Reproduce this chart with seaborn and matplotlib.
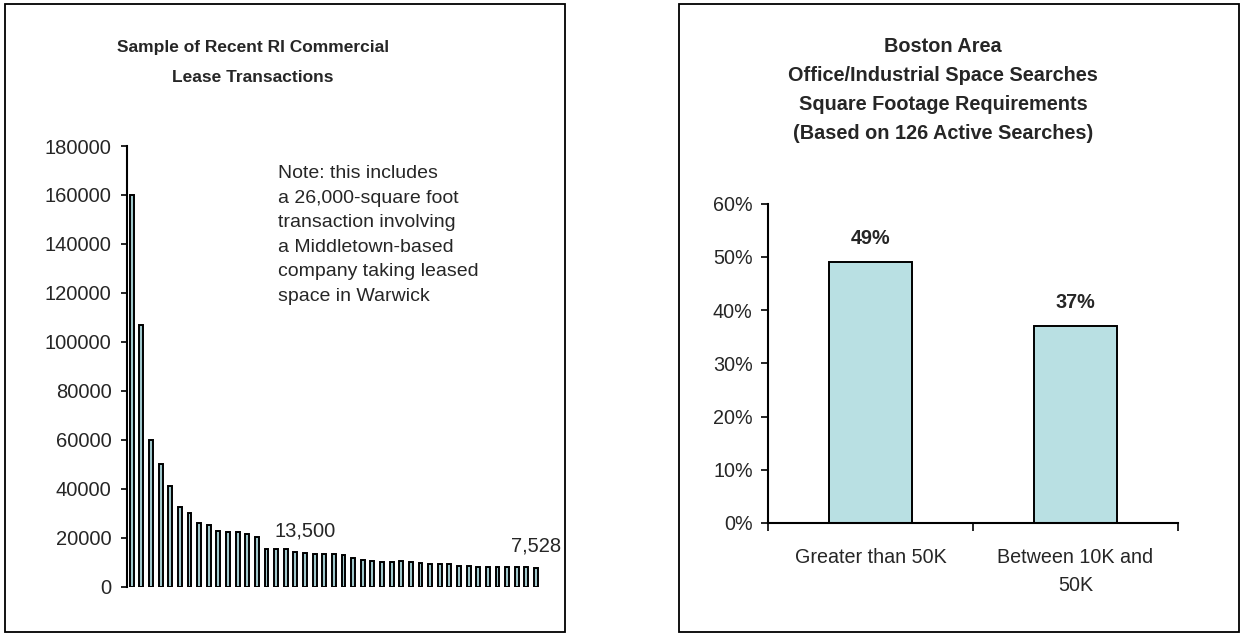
import matplotlib
matplotlib.use("Agg")
import matplotlib.pyplot as plt
from matplotlib.patches import Rectangle
from matplotlib.ticker import FuncFormatter
import seaborn as sns
import pandas as pd

# Lease transaction sizes (square feet), largest to smallest
lease_sqft = [160000, 107000, 60000, 50000, 41000, 32300, 30200, 26000, 25300,
              22800, 22200, 22200, 21300, 20100, 15200, 15200, 15200, 14000,
              13500, 13100, 13100, 13100, 12700, 11700, 10900, 10500, 9900,
              9900, 10600, 9900, 9400, 9000, 9000, 9000, 8300, 8300, 8000,
              8000, 8000, 8000, 8000, 7900, 7528]
lease_ids = [str(i + 1) for i in range(len(lease_sqft))]
lease_labeled = {18: "13,500", 42: "7,528"}
lease_yticks = [0, 20000, 40000, 60000, 80000, 100000, 120000, 140000, 160000, 180000]

# Boston area searches by size requirement
search_cats = ["Greater than 50K", "Between 10K and\n50K"]
search_share = [0.49, 0.37]
search_labels = ["49%", "37%"]
search_yticks = [0.0, 0.1, 0.2, 0.3, 0.4, 0.5, 0.6]

left_title = "Sample of Recent RI Commercial\nLease Transactions"
note_text = ("Note: this includes\na 26,000-square foot\ntransaction involving\n"
             "a Middletown-based\ncompany taking leased\nspace in Warwick")
right_title = ("Boston Area\nOffice/Industrial Space Searches\n"
               "Square Footage Requirements\n(Based on 126 Active Searches)")

sns.set_style("white")
plt.rcParams["font.family"] = ["Liberation Sans", "DejaVu Sans"]

W, H = 1241, 635
fig = plt.figure(figsize=(W / 100, H / 100), dpi=100)


def px_axes(x0, y0, x1, y1):
    """Axes from pixel corners (top-left origin)."""
    return fig.add_axes([x0 / W, 1 - y1 / H, (x1 - x0) / W, (y1 - y0) / H])


def px_box(x0, y0, x1, y1):
    fig.patches.append(Rectangle((x0 / W, 1 - y1 / H), (x1 - x0) / W, (y1 - y0) / H,
                                 transform=fig.transFigure, fill=False,
                                 edgecolor="black", linewidth=1.3))


px_box(5, 4, 565, 632)
px_box(679, 4, 1239, 632)

fs_left = 14.5
fs_note = 14
fs_right = 14.2

# ---- left panel: lease transactions
df_l = pd.DataFrame({"id": lease_ids, "sqft": lease_sqft})
axl = px_axes(127, 146, 545, 586.5)
sns.barplot(data=df_l, x="id", y="sqft", order=lease_ids, ax=axl,
            color="#a0c8cc", edgecolor="black", linewidth=1.4, width=0.4,
            saturation=1)
axl.set_xlim(-0.49, len(lease_sqft) - 1 + 0.94)
axl.set_ylim(0, 180000)
axl.set_yticks(lease_yticks)
axl.set_yticklabels([str(v) for v in lease_yticks])
axl.set_xticks([])
axl.set_xlabel("")
axl.set_ylabel("")
for s in ["top", "right", "bottom"]:
    axl.spines[s].set_visible(False)
axl.spines["left"].set_linewidth(1.5)
axl.spines["left"].set_color("black")
axl.tick_params(axis="y", direction="out", length=4, width=1.2, color="black",
                pad=7, labelsize=fs_left, left=True)
for i, txt in lease_labeled.items():
    axl.annotate(txt, (i, lease_sqft[i]), xytext=(0, 16), textcoords="offset points",
                 ha="center", va="center", fontsize=fs_left)
fig.text(278 / W, 1 - 165 / H, note_text, ha="left", va="top", fontsize=fs_note,
         linespacing=1.58)
fig.text(253 / W, 1 - 62.5 / H, left_title, ha="center", va="center",
         fontsize=12.5, fontweight="bold", linespacing=2.23)

# ---- right panel: Boston searches
df_r = pd.DataFrame({"cat": search_cats, "share": search_share})
axr = px_axes(768, 203.5, 1178, 523)
sns.barplot(data=df_r, x="cat", y="share", order=search_cats, ax=axr,
            color="#b9e0e3", edgecolor="black", linewidth=1.4, width=0.404,
            saturation=1)
axr.set_xlim(-0.5, 1.5)
axr.set_ylim(0, 0.6)
axr.set_yticks(search_yticks)
axr.yaxis.set_major_formatter(FuncFormatter(lambda v, p: f"{v * 100:.0f}%"))
axr.set_xticks([-0.5, 0.5, 1.5])
axr.set_xticklabels([])
axr.set_xticks([0, 1], minor=True)
axr.set_xticklabels(search_cats, minor=True, fontsize=fs_right, linespacing=1.58)
axr.tick_params(axis="x", which="minor", length=0, pad=18)
axr.tick_params(axis="x", which="major", direction="out", length=5.5, width=1.2,
                color="black", bottom=True)
axr.tick_params(axis="y", direction="out", length=5, width=1.2, color="black",
                pad=6, labelsize=fs_right, left=True)
axr.set_xlabel("")
axr.set_ylabel("")
for s in ["top", "right"]:
    axr.spines[s].set_visible(False)
for s in ["left", "bottom"]:
    axr.spines[s].set_linewidth(1.5)
    axr.spines[s].set_color("black")
for i, (v, txt) in enumerate(zip(search_share, search_labels)):
    axr.annotate(txt, (i, v), xytext=(0, 17), textcoords="offset points",
                 ha="center", va="center", fontsize=fs_right, fontweight="bold")
fig.text(943 / W, 1 - 90 / H, right_title, ha="center", va="center",
         fontsize=14.3, fontweight="bold", linespacing=1.65)

fig.savefig("out.png", dpi=100, facecolor="white")
